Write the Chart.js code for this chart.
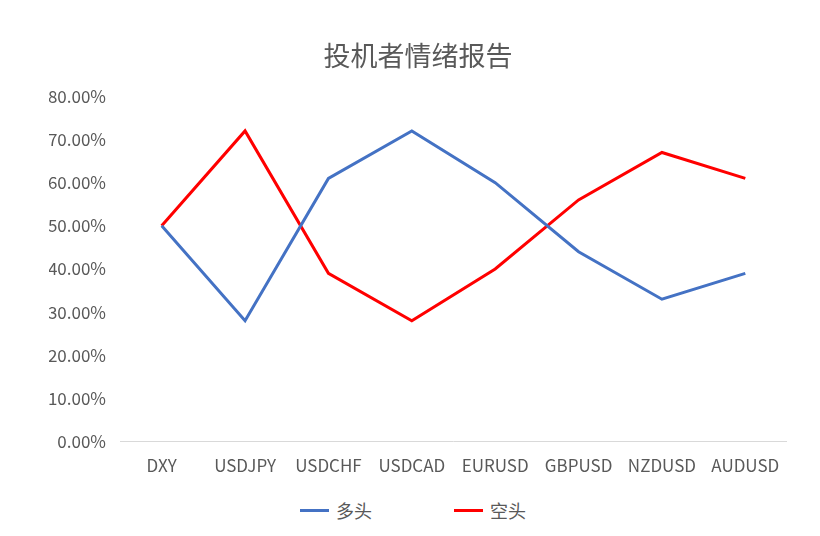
<!DOCTYPE html>
<html>
<head>
<meta charset="utf-8">
<script src="https://cdn.jsdelivr.net/npm/chart.js@4.4.1/dist/chart.umd.min.js"></script>
<style>
  html, body { margin: 0; padding: 0; background: #fff; overflow: hidden; }
  #wrap { position: relative; width: 820px; height: 490px; }
  #legend { position: relative; height: 46px; font-family: "Noto Sans CJK SC", sans-serif; font-size: 18px; color: #595959; }
  .item { position: absolute; top: 7px; display: flex; align-items: center; }
  .swatch { width: 29px; height: 3px; margin-right: 7px; }
</style>
</head>
<body>
<div id="wrap"><canvas id="c"></canvas></div>
<div id="legend"></div>
<script>
// 投机者情绪报告 — 多头 / 空头 比例折线
var categories = ['DXY', 'USDJPY', 'USDCHF', 'USDCAD', 'EURUSD', 'GBPUSD', 'NZDUSD', 'AUDUSD'];
var longPct  = [0.50, 0.28, 0.61, 0.72, 0.60, 0.44, 0.33, 0.39];
var shortPct = [0.50, 0.72, 0.39, 0.28, 0.40, 0.56, 0.67, 0.61];
var seriesNames = ['多头', '空头'];
var seriesColors = ['#4472c4', '#ff0000'];

var font = '"Noto Sans CJK SC", "Noto Sans", sans-serif';
var grey = '#595959';

// 图例放在画布下面 (手工排版, 和原图对齐)
var legend = document.getElementById('legend');
var legendX = [300, 454];
seriesNames.forEach(function (name, i) {
  var d = document.createElement('div');
  d.className = 'item';
  d.style.left = legendX[i] + 'px';
  d.innerHTML = '<span class="swatch" style="background:' + seriesColors[i] + '"></span><span>' + name + '</span>';
  legend.appendChild(d);
});

new Chart(document.getElementById('c'), {
  type: 'line',
  data: {
    labels: categories,
    datasets: [
      { label: seriesNames[0], data: longPct, borderColor: seriesColors[0], backgroundColor: seriesColors[0], borderWidth: 3, pointRadius: 0, tension: 0 },
      { label: seriesNames[1], data: shortPct, borderColor: seriesColors[1], backgroundColor: seriesColors[1], borderWidth: 3, pointRadius: 0, tension: 0 }
    ]
  },
  options: {
    responsive: true,
    maintainAspectRatio: false,
    animation: false,
    // 左边留 49 让标题居中在 418 附近, y 轴宽度再补到 120
    layout: { padding: { left: 49, right: 33, top: 0, bottom: 0 } },
    plugins: {
      legend: { display: false },
      tooltip: { enabled: false },
      title: {
        display: true,
        text: '投机者情绪报告',
        color: grey,
        font: { family: font, size: 27, weight: 'normal' },
        padding: { top: 40, bottom: 24 }
      }
    },
    scales: {
      x: {
        offset: true,
        grid: { display: false, drawTicks: false },
        border: { display: false },
        ticks: { color: grey, font: { family: font, size: 17 }, padding: 14, maxRotation: 0 }
      },
      y: {
        min: 0,
        max: 0.8,
        grid: {
          drawTicks: false,
          color: function (ctx) { return ctx.tick && ctx.tick.value === 0 ? '#d9d9d9' : 'rgba(0,0,0,0)'; }
        },
        border: { display: false },
        afterFit: function (s) { s.width = 71; },
        ticks: {
          stepSize: 0.1,
          color: grey,
          padding: 14,
          font: { family: font, size: 17 },
          callback: function (v) { return (v * 100).toFixed(2) + '%'; }
        }
      }
    }
  }
});
</script>
</body>
</html>
